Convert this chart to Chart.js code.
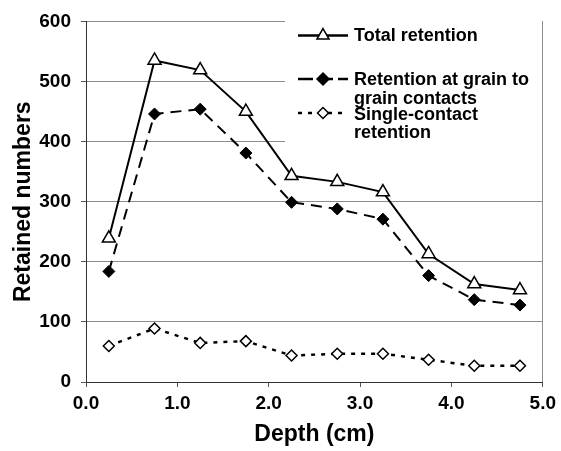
<!DOCTYPE html>
<html>
<head>
<meta charset="utf-8">
<script src="https://cdn.jsdelivr.net/npm/chart.js@4/dist/chart.umd.min.js"></script>
<style>
  html, body { margin: 0; padding: 0; background: #fff; }
  #wrap { width: 561px; height: 451px; }
</style>
</head>
<body>
<div id="wrap"><canvas id="chart" width="561" height="451"></canvas></div>
<script>
const depths = [0.25, 0.75, 1.25, 1.75, 2.25, 2.75, 3.25, 3.75, 4.25, 4.75];
const totalRetention = [239, 535, 519, 450, 343, 333, 316, 213, 163, 153];
const grainContacts = [184, 446, 454, 381, 299, 288, 271, 177, 137, 128];
const singleContact = [60, 89, 65, 68, 44, 47, 47, 37, 27, 27];
const seriesNames = [["Total retention"], ["Retention at grain to", "grain contacts"], ["Single-contact", "retention"]];
const yTicks = [0, 100, 200, 300, 400, 500, 600];
const xTicks = [0, 1, 2, 3, 4, 5];

const FONT = "'Liberation Sans', Arial, sans-serif";
const GRID = "#8c8c8c";

function pts(values) {
  return depths.map((d, i) => ({ x: d, y: values[i] }));
}

// legend sits inside the plot, white box over the grid lines
const insideLegend = {
  id: "insideLegend",
  beforeDatasetsDraw(chart) {
    const ctx = chart.ctx;
    ctx.save();
    ctx.fillStyle = "#fff";
    ctx.fillRect(285, 20, 257, 145);
    ctx.restore();
  },
  afterDraw(chart) {
    const ctx = chart.ctx;
    const rows = [
      { y: 35.5, text: [41], dash: [], style: "triangle", fill: "#fff", r: 7 },
      { y: 79, text: [85, 104], dash: [15, 5], style: "rectRot", fill: "#000", r: 6 },
      { y: 113, text: [120, 138], dash: [4, 6], style: "rectRot", fill: "#fff", r: 5.5 }
    ];
    ctx.save();
    rows.forEach((row, i) => {
      ctx.strokeStyle = "#000";
      ctx.lineWidth = 2.5;
      ctx.setLineDash(row.dash);
      ctx.beginPath();
      ctx.moveTo(298, row.y);
      ctx.lineTo(348, row.y);
      ctx.stroke();
      ctx.setLineDash([]);
      ctx.fillStyle = row.fill;
      ctx.lineWidth = 1.5;
      Chart.helpers.drawPoint(ctx, { pointStyle: row.style, radius: row.r, rotation: 0, borderWidth: 1.5 }, 323, row.y);
      ctx.fillStyle = "#000";
      ctx.font = "bold 18px " + FONT;
      ctx.textBaseline = "alphabetic";
      seriesNames[i].forEach((line, j) => {
        ctx.fillText(line, 354, row.text[j]);
      });
    });
    ctx.restore();
  }
};

new Chart(document.getElementById("chart"), {
  type: "line",
  data: {
    datasets: [
      {
        label: seriesNames[0].join(" "),
        data: pts(totalRetention),
        borderColor: "#000",
        borderWidth: 2,
        pointStyle: "triangle",
        pointRadius: 7.5,
        pointBackgroundColor: "#fff",
        pointBorderColor: "#000",
        pointBorderWidth: 1.5
      },
      {
        label: seriesNames[1].join(" "),
        data: pts(grainContacts),
        borderColor: "#000",
        borderWidth: 2,
        borderDash: [11, 7],
        pointStyle: "rectRot",
        pointRadius: 6,
        pointBackgroundColor: "#000",
        pointBorderColor: "#000",
        pointBorderWidth: 1
      },
      {
        label: seriesNames[2].join(" "),
        data: pts(singleContact),
        borderColor: "#000",
        borderWidth: 2.5,
        borderDash: [4, 6],
        pointStyle: "rectRot",
        pointRadius: 5.5,
        pointBackgroundColor: "#fff",
        pointBorderColor: "#000",
        pointBorderWidth: 1.5
      }
    ]
  },
  options: {
    responsive: false,
    animation: false,
    layout: { padding: { top: 18, right: 13, left: 0, bottom: 0 } },
    plugins: { legend: { display: false }, tooltip: { enabled: false } },
    scales: {
      x: {
        type: "linear",
        min: 0,
        max: 5,
        afterFit: (s) => { s.height = 69; },
        afterBuildTicks: (s) => { s.ticks = xTicks.map((v) => ({ value: v })); },
        ticks: {
          callback: (v) => v.toFixed(1),
          color: "#000",
          font: { family: FONT, size: 19, weight: "bold" },
          padding: 5,
          maxRotation: 0
        },
        grid: {
          color: (c) => (c.tick && c.tick.value === 5 ? GRID : "rgba(0,0,0,0)"),
          tickColor: "#555",
          tickLength: 5
        },
        border: { color: "#333", width: 1 },
        title: {
          display: true,
          text: "Depth (cm)",
          color: "#000",
          font: { family: FONT, size: 23, weight: "bold" },
          padding: { top: 0, bottom: 3 }
        }
      },
      y: {
        min: 0,
        max: 600,
        afterFit: (s) => { s.width = 86; },
        afterBuildTicks: (s) => { s.ticks = yTicks.map((v) => ({ value: v })); },
        ticks: {
          color: "#000",
          font: { family: FONT, size: 19, weight: "bold" },
          padding: 10
        },
        grid: {
          color: (c) => (c.tick && c.tick.value === 0 ? "rgba(0,0,0,0)" : GRID),
          tickColor: "#555",
          tickLength: 5
        },
        border: { color: "#333", width: 1 },
        title: {
          display: true,
          text: "Retained numbers",
          color: "#000",
          font: { family: FONT, size: 23, weight: "bold" },
          padding: { top: 10, bottom: 0 }
        }
      }
    }
  },
  plugins: [insideLegend]
});
</script>
</body>
</html>
